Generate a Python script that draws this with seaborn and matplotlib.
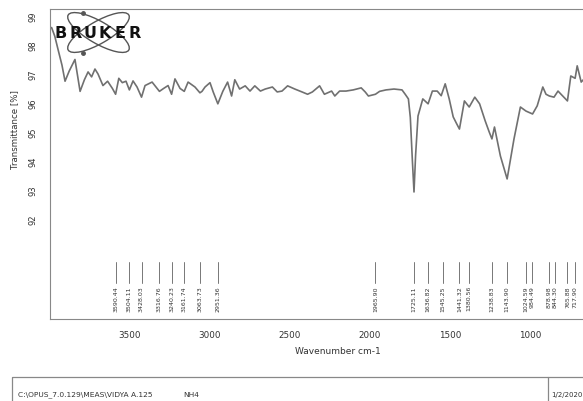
import matplotlib
matplotlib.use("Agg")
import matplotlib.pyplot as plt
from matplotlib.patches import Ellipse, Rectangle
import seaborn as sns
import pandas as pd

# spectrum (wavenumber cm-1, transmittance %)
wavenumber = [3990, 3970, 3950, 3925, 3906, 3880, 3844, 3812, 3785, 3762,
              3740, 3719, 3700, 3669, 3640, 3610, 3590, 3570, 3548, 3525,
              3504, 3481, 3456, 3428, 3406, 3362, 3316, 3290, 3262, 3240,
              3219, 3187, 3161, 3137, 3094, 3063, 3050, 3031, 3000, 2980,
              2951, 2920, 2890, 2865, 2845, 2815, 2780, 2750, 2720, 2685,
              2655, 2610, 2580, 2550, 2515, 2470, 2425, 2390, 2360, 2315,
              2285, 2240, 2220, 2190, 2150, 2105, 2055, 2030, 2010, 1966,
              1940, 1900, 1850, 1800, 1780, 1760, 1748, 1735, 1725, 1715,
              1700, 1670, 1637, 1610, 1580, 1555, 1530, 1505, 1480, 1460,
              1441, 1410, 1380, 1345, 1315, 1280, 1255, 1238, 1222, 1185,
              1143, 1100, 1060, 1025, 984, 955, 920, 900, 879, 850,
              825, 766, 745, 718, 705, 680, 650, 620]
transmittance = [98.6, 98.3, 97.85, 97.3, 96.75, 97.1, 97.5, 96.4, 96.8, 97.07,
                 96.9, 97.17, 97.0, 96.6, 96.75, 96.5, 96.3, 96.85, 96.7, 96.75,
                 96.45, 96.76, 96.55, 96.2, 96.6, 96.72, 96.4, 96.5, 96.6, 96.3,
                 96.83, 96.5, 96.4, 96.72, 96.55, 96.35, 96.4, 96.55, 96.7, 96.38,
                 95.97, 96.4, 96.72, 96.24, 96.8, 96.48, 96.59, 96.41, 96.59, 96.41,
                 96.48, 96.55, 96.38, 96.41, 96.59, 96.48, 96.38, 96.3, 96.38, 96.59,
                 96.3, 96.41, 96.24, 96.41, 96.41, 96.45, 96.52, 96.38, 96.24, 96.3,
                 96.4, 96.45, 96.48, 96.45, 96.3, 96.14, 95.5, 94.0, 92.93, 94.2,
                 95.55, 96.14, 95.97, 96.41, 96.41, 96.25, 96.66, 96.14, 95.52, 95.3,
                 95.1, 96.07, 95.86, 96.2, 95.97, 95.38, 95.0, 94.76, 95.17, 94.17,
                 93.38, 94.76, 95.86, 95.72, 95.62, 95.9, 96.55, 96.3, 96.24, 96.2,
                 96.41, 96.07, 96.93, 96.85, 97.28, 96.72, 96.9, 96.8]

peak_positions = [3590.44, 3504.11, 3428.03, 3316.76, 3240.23, 3161.74, 3063.73,
                  2951.36, 1965.90, 1725.11, 1636.82, 1545.25, 1441.32, 1380.56,
                  1238.83, 1143.90, 1024.59, 984.49, 878.98, 844.30, 765.88,
                  717.90]

x_ticks = [3500, 3000, 2500, 2000, 1500, 1000]
y_ticks = [92, 93, 94, 95, 96, 97, 98, 99]

footer_path = "C:\\OPUS_7.0.129\\MEAS\\VIDYA A.125"
footer_sample = "NH4"
footer_date = "1/2/2020"

W, H = 583, 402
grey = "#888888"
ink = "#333333"

sns.set_style("white")
plt.rcParams['font.family'] = ['DejaVu Sans']

fig = plt.figure(figsize=(W / 100, H / 100), dpi=100)
# the axes runs past the right edge, as in the cropped screenshot
ax = fig.add_axes([50 / W, 1 - 320 / H, 576 / W, 310 / H])

df = pd.DataFrame({"wavenumber": wavenumber, "transmittance": transmittance})
sns.lineplot(data=df, x="wavenumber", y="transmittance", ax=ax, color="#707070",
             linewidth=1.2, estimator=None, sort=False)

ax.set_xlim(4000, 400)
ax.set_ylim(88.55, 99.24)
ax.set_xticks(x_ticks)
ax.set_yticks(y_ticks)
ax.tick_params(axis="both", direction="out", length=3, width=0.6, color=grey,
               labelcolor=ink)
ax.tick_params(axis="x", labelsize=6.3, pad=5)
ax.tick_params(axis="y", labelsize=6, pad=6)
for lbl in ax.get_yticklabels():
    lbl.set_rotation(90)
    lbl.set_va("center")
for s in ax.spines.values():
    s.set_color(grey)
    s.set_linewidth(0.8)

ax.set_xlabel("Wavenumber cm-1", fontsize=6.5, color=ink, labelpad=5)
ax.set_ylabel("Transmittance [%]", fontsize=6.2, color=ink)
ax.yaxis.set_label_coords(-0.053, 0.613)

# peak picking marks
for p in peak_positions:
    ax.plot([p, p], [89.8, 90.52], color="#777777", linewidth=0.7)
    ax.text(p, 89.72, f"{p:.2f}", rotation=90, ha="center", va="top",
            fontsize=4.5, color=ink)

# overlay in pixel units for logo and footer
ov = fig.add_axes([0, 0, 1, 1], facecolor="none")
ov.set_xlim(0, W)
ov.set_ylim(H, 0)
ov.axis("off")

for ang in (30, -30):
    ov.add_patch(Ellipse((98.5, 33.5), 70, 22, angle=ang, fill=False,
                         edgecolor="#555555", linewidth=1.0))
ov.plot([83, 83], [13.5, 53.5], "o", color="#555555", markersize=2.5)
for i, ch in enumerate("BRUKER"):
    ov.text(60.5 + 14.8 * i, 34, ch, ha="center", va="center", fontsize=11.5,
            fontweight="bold", color="#111111")

ov.add_patch(Rectangle((12, 378), 620, 40, fill=False, edgecolor=grey,
                       linewidth=0.9, clip_on=False))
ov.plot([548, 548], [378, 402], color=grey, linewidth=0.9)
ov.text(18, 395, footer_path, fontsize=5.4, color=ink, va="center")
ov.text(183, 395, footer_sample, fontsize=5.4, color=ink, va="center")
ov.text(551, 395, footer_date, fontsize=5.0, color=ink, va="center")

fig.savefig("out.png", dpi=100, facecolor="white")
